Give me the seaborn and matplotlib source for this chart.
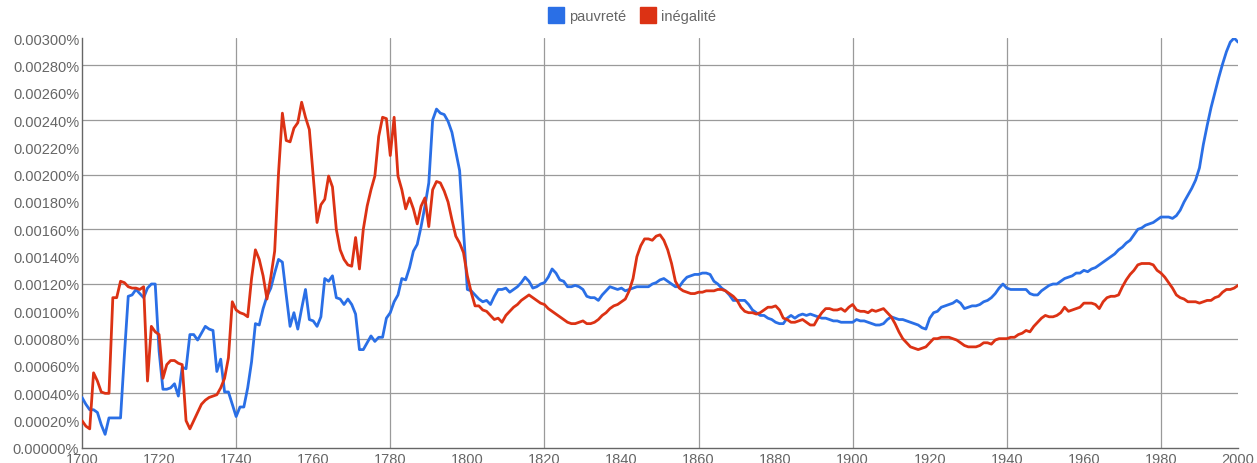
import matplotlib
matplotlib.use("Agg")
import matplotlib.pyplot as plt
from matplotlib.lines import Line2D
from matplotlib.ticker import FixedLocator, FuncFormatter
import numpy as np
import pandas as pd
import seaborn as sns

# ---- data (percent of corpus), one value per year 1700..2000 ----
years = list(range(1700, 2001))

pauvrete = [
    0.00037, 0.00032, 0.00028, 0.00028, 0.00026, 0.00017, 0.00010, 0.00022, 0.00022, 0.00022,  # 1700s
    0.00022, 0.00068, 0.00111, 0.00112, 0.00116, 0.00113, 0.00110, 0.00117, 0.00120, 0.00120,  # 1710s
    0.00071, 0.00043, 0.00043, 0.00044, 0.00047, 0.00038, 0.00059, 0.00058, 0.00083, 0.00083,  # 1720s
    0.00079, 0.00084, 0.00089, 0.00087, 0.00086, 0.00056, 0.00065, 0.00041, 0.00041, 0.00032,  # 1730s
    0.00023, 0.00030, 0.00030, 0.00044, 0.00063, 0.00091, 0.00090, 0.00102, 0.00111, 0.00117,  # 1740s
    0.00128, 0.00138, 0.00136, 0.00112, 0.00089, 0.00099, 0.00087, 0.00102, 0.00116, 0.00094,  # 1750s
    0.00093, 0.00089, 0.00096, 0.00124, 0.00122, 0.00126, 0.00110, 0.00109, 0.00105, 0.00109,  # 1760s
    0.00105, 0.00098, 0.00072, 0.00072, 0.00077, 0.00082, 0.00078, 0.00081, 0.00081, 0.00095,  # 1770s
    0.00099, 0.00107, 0.00112, 0.00124, 0.00123, 0.00132, 0.00144, 0.00149, 0.00162, 0.00177,  # 1780s
    0.00194, 0.00240, 0.00248, 0.00245, 0.00244, 0.00239, 0.00231, 0.00217, 0.00203, 0.00160,  # 1790s
    0.00116, 0.00115, 0.00112, 0.00109, 0.00107, 0.00108, 0.00105, 0.00111, 0.00116, 0.00116,  # 1800s
    0.00117, 0.00114, 0.00116, 0.00118, 0.00121, 0.00125, 0.00122, 0.00117, 0.00118, 0.00120,  # 1810s
    0.00121, 0.00125, 0.00131, 0.00128, 0.00123, 0.00122, 0.00118, 0.00118, 0.00119, 0.00118,  # 1820s
    0.00116, 0.00111, 0.00110, 0.00110, 0.00108, 0.00112, 0.00115, 0.00118, 0.00117, 0.00116,  # 1830s
    0.00117, 0.00115, 0.00116, 0.00117, 0.00118, 0.00118, 0.00118, 0.00118, 0.00120, 0.00121,  # 1840s
    0.00123, 0.00124, 0.00122, 0.00120, 0.00118, 0.00118, 0.00122, 0.00125, 0.00126, 0.00127,  # 1850s
    0.00127, 0.00128, 0.00128, 0.00127, 0.00122, 0.00120, 0.00117, 0.00115, 0.00112, 0.00108,  # 1860s
    0.00108, 0.00108, 0.00108, 0.00105, 0.00101, 0.00099, 0.00097, 0.00097, 0.00095, 0.00094,  # 1870s
    0.00092, 0.00091, 0.00091, 0.00095, 0.00097, 0.00095, 0.00097, 0.00098, 0.00097, 0.00098,  # 1880s
    0.00097, 0.00096, 0.00095, 0.00095, 0.00094, 0.00093, 0.00093, 0.00092, 0.00092, 0.00092,  # 1890s
    0.00092, 0.00094, 0.00093, 0.00093, 0.00092, 0.00091, 0.00090, 0.00090, 0.00091, 0.00094,  # 1900s
    0.00096, 0.00095, 0.00094, 0.00094, 0.00093, 0.00092, 0.00091, 0.00090, 0.00088, 0.00087,  # 1910s
    0.00095, 0.00099, 0.00100, 0.00103, 0.00104, 0.00105, 0.00106, 0.00108, 0.00106, 0.00102,  # 1920s
    0.00103, 0.00104, 0.00104, 0.00105, 0.00107, 0.00108, 0.00110, 0.00113, 0.00117, 0.00120,  # 1930s
    0.00117, 0.00116, 0.00116, 0.00116, 0.00116, 0.00116, 0.00113, 0.00112, 0.00112, 0.00115,  # 1940s
    0.00117, 0.00119, 0.00120, 0.00120, 0.00122, 0.00124, 0.00125, 0.00126, 0.00128, 0.00128,  # 1950s
    0.00130, 0.00129, 0.00131, 0.00132, 0.00134, 0.00136, 0.00138, 0.00140, 0.00142, 0.00145,  # 1960s
    0.00147, 0.00150, 0.00152, 0.00156, 0.00160, 0.00161, 0.00163, 0.00164, 0.00165, 0.00167,  # 1970s
    0.00169, 0.00169, 0.00169, 0.00168, 0.00170, 0.00174, 0.00180, 0.00185, 0.00190, 0.00196,  # 1980s
    0.00205, 0.00222, 0.00236, 0.00249, 0.00260, 0.00271, 0.00281, 0.00290, 0.00297, 0.00300,  # 1990s
    0.00297,                                                                                   # 2000
]

inegalite = [
    0.00020, 0.00016, 0.00014, 0.00055, 0.00049, 0.00041, 0.00040, 0.00040, 0.00110, 0.00110,  # 1700s
    0.00122, 0.00121, 0.00118, 0.00117, 0.00117, 0.00116, 0.00118, 0.00049, 0.00089, 0.00085,  # 1710s
    0.00083, 0.00051, 0.00061, 0.00064, 0.00064, 0.00062, 0.00061, 0.00020, 0.00014, 0.00020,  # 1720s
    0.00026, 0.00032, 0.00035, 0.00037, 0.00038, 0.00039, 0.00044, 0.00051, 0.00066, 0.00107,  # 1730s
    0.00101, 0.00099, 0.00098, 0.00096, 0.00124, 0.00145, 0.00138, 0.00126, 0.00109, 0.00125,  # 1740s
    0.00144, 0.00201, 0.00245, 0.00225, 0.00224, 0.00234, 0.00238, 0.00253, 0.00242, 0.00233,  # 1750s
    0.00199, 0.00165, 0.00178, 0.00182, 0.00199, 0.00191, 0.00160, 0.00145, 0.00138, 0.00134,  # 1760s
    0.00133, 0.00154, 0.00131, 0.00160, 0.00177, 0.00189, 0.00199, 0.00228, 0.00242, 0.00241,  # 1770s
    0.00214, 0.00242, 0.00199, 0.00189, 0.00175, 0.00183, 0.00175, 0.00164, 0.00177, 0.00183,  # 1780s
    0.00162, 0.00189, 0.00195, 0.00194, 0.00188, 0.00180, 0.00167, 0.00155, 0.00150, 0.00143,  # 1790s
    0.00126, 0.00114, 0.00104, 0.00104, 0.00101, 0.00100, 0.00097, 0.00094, 0.00095, 0.00092,  # 1800s
    0.00097, 0.00100, 0.00103, 0.00105, 0.00108, 0.00110, 0.00112, 0.00110, 0.00108, 0.00106,  # 1810s
    0.00105, 0.00102, 0.00100, 0.00098, 0.00096, 0.00094, 0.00092, 0.00091, 0.00091, 0.00092,  # 1820s
    0.00093, 0.00091, 0.00091, 0.00092, 0.00094, 0.00097, 0.00099, 0.00102, 0.00104, 0.00105,  # 1830s
    0.00107, 0.00109, 0.00115, 0.00124, 0.00140, 0.00148, 0.00153, 0.00153, 0.00152, 0.00155,  # 1840s
    0.00156, 0.00152, 0.00145, 0.00135, 0.00122, 0.00117, 0.00115, 0.00114, 0.00113, 0.00113,  # 1850s
    0.00114, 0.00114, 0.00115, 0.00115, 0.00115, 0.00116, 0.00116, 0.00115, 0.00113, 0.00111,  # 1860s
    0.00108, 0.00103, 0.00100, 0.00099, 0.00099, 0.00098, 0.00099, 0.00101, 0.00103, 0.00103,  # 1870s
    0.00104, 0.00101, 0.00095, 0.00094, 0.00092, 0.00092, 0.00093, 0.00094, 0.00092, 0.00090,  # 1880s
    0.00090, 0.00095, 0.00099, 0.00102, 0.00102, 0.00101, 0.00101, 0.00102, 0.00100, 0.00103,  # 1890s
    0.00105, 0.00101, 0.00100, 0.00100, 0.00099, 0.00101, 0.00100, 0.00101, 0.00102, 0.00099,  # 1900s
    0.00096, 0.00091, 0.00085, 0.00080, 0.00077, 0.00074, 0.00073, 0.00072, 0.00073, 0.00074,  # 1910s
    0.00077, 0.00080, 0.00080, 0.00081, 0.00081, 0.00081, 0.00080, 0.00079, 0.00077, 0.00075,  # 1920s
    0.00074, 0.00074, 0.00074, 0.00075, 0.00077, 0.00077, 0.00076, 0.00079, 0.00080, 0.00080,  # 1930s
    0.00080, 0.00081, 0.00081, 0.00083, 0.00084, 0.00086, 0.00085, 0.00089, 0.00092, 0.00095,  # 1940s
    0.00097, 0.00096, 0.00096, 0.00097, 0.00099, 0.00103, 0.00100, 0.00101, 0.00102, 0.00103,  # 1950s
    0.00106, 0.00106, 0.00106, 0.00105, 0.00102, 0.00107, 0.00110, 0.00111, 0.00111, 0.00112,  # 1960s
    0.00118, 0.00123, 0.00127, 0.00130, 0.00134, 0.00135, 0.00135, 0.00135, 0.00134, 0.00130,  # 1970s
    0.00128, 0.00125, 0.00121, 0.00117, 0.00112, 0.00110, 0.00109, 0.00107, 0.00107, 0.00107,  # 1980s
    0.00106, 0.00107, 0.00108, 0.00108, 0.00110, 0.00111, 0.00114, 0.00116, 0.00116, 0.00117,  # 1990s
    0.00119,                                                                                   # 2000
]

series_names = ["pauvreté", "inégalité"]
series_colors = ["#2a6fe6", "#dc3214"]
x_tick_labels = list(range(1700, 2001, 20))
y_tick_values = [0.0, 0.0002, 0.0004, 0.0006, 0.0008, 0.0010, 0.0012, 0.0014,
                 0.0016, 0.0018, 0.0020, 0.0022, 0.0024, 0.0026, 0.0028, 0.0030]

# ---- long-form table ----
df = pd.DataFrame({
    "year": years * 2,
    "value": pauvrete + inegalite,
    "term": [series_names[0]] * len(years) + [series_names[1]] * len(years),
})

sns.set_style("white")
plt.rcParams["font.family"] = ["Liberation Sans", "DejaVu Sans"]

fig = plt.figure(figsize=(12.57, 4.64), dpi=100)
ax = fig.add_axes([82 / 1257, 1 - 449 / 464, (1238 - 82) / 1257, (449 - 39) / 464])

sns.lineplot(data=df, x="year", y="value", hue="term", hue_order=series_names,
             palette=series_colors, linewidth=2.0, ax=ax, legend=False,
             estimator=None, zorder=3)

ax.set_xlim(1700, 2000)
ax.set_ylim(0, 0.0030)
ax.set_xlabel("")
ax.set_ylabel("")

ax.xaxis.set_major_locator(FixedLocator(x_tick_labels))
ax.yaxis.set_major_locator(FixedLocator(y_tick_values))
ax.yaxis.set_major_formatter(FuncFormatter(lambda v, p: f"{v:.5f}%"))
ax.tick_params(axis="both", length=0, labelsize=10.5, colors="#666666", pad=2)
ax.tick_params(axis="x", pad=3)

# gridlines: vertical every 40 years, horizontal every 0.0004
for gx in range(1740, 2000, 40):
    ax.axvline(gx, color="#9a9a9a", linewidth=0.9, zorder=1)
for gy in [0.0004, 0.0008, 0.0012, 0.0016, 0.0020, 0.0024, 0.0028]:
    ax.axhline(gy, color="#9a9a9a", linewidth=0.9, zorder=1)

for s in ["top", "right"]:
    ax.spines[s].set_visible(False)
for s in ["left", "bottom"]:
    ax.spines[s].set_color("#666666")
    ax.spines[s].set_linewidth(1.0)

handles = [Line2D([0], [0], marker="s", linestyle="none", markersize=11,
                  markerfacecolor=c, markeredgecolor=c) for c in series_colors]
fig.legend(handles, series_names, loc="center", bbox_to_anchor=(632 / 1257, 1 - 17 / 464),
           ncol=2, frameon=False, fontsize=10.5, labelcolor="#666666",
           handletextpad=0.4, columnspacing=1.0, handlelength=1.0)

fig.savefig("out.png", dpi=100)
